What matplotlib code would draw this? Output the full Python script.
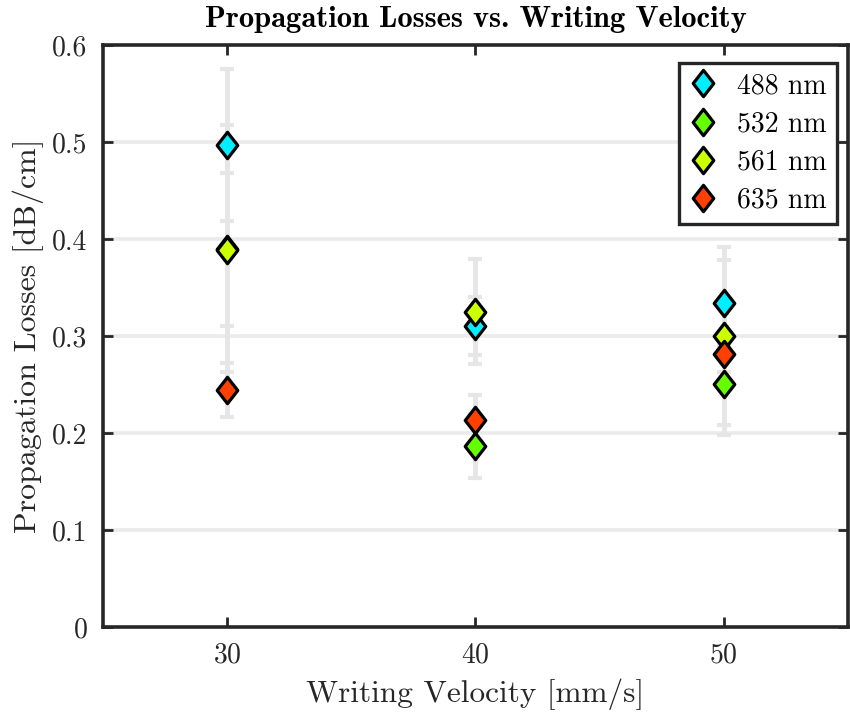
import numpy as np
import matplotlib
matplotlib.use("Agg")
import matplotlib.pyplot as plt
from matplotlib.path import Path

plt.rcParams['font.family'] = 'cmr10'
plt.rcParams['mathtext.fontset'] = 'cm'
plt.rcParams['axes.unicode_minus'] = False
plt.rcParams['axes.formatter.use_mathtext'] = True

# Measured propagation losses per laser line
velocity = [30, 40, 50]
labels = ['488 nm', '532 nm', '561 nm', '635 nm']
colors = ['#00EEFF', '#66FF00', '#CCFF00', '#FF4000']
loss_488 = [0.497, 0.310, 0.334]
loss_532 = [0.390, 0.187, 0.251]
loss_561 = [0.389, 0.325, 0.300]
loss_635 = [0.244, 0.213, 0.281]
err_488 = [0.078, 0.030, 0.044]
err_532 = [0.127, 0.033, 0.053]
err_561 = [0.079, 0.054, 0.092]
err_635 = [0.028, 0.026, 0.018]

losses = [loss_488, loss_532, loss_561, loss_635]
errors = [err_488, err_532, err_561, err_635]

# slightly tall diamond like MATLAB's 'd'
diamond = Path([(0, 1), (0.78, 0), (0, -1), (-0.78, 0), (0, 1)],
               [Path.MOVETO, Path.LINETO, Path.LINETO, Path.LINETO, Path.CLOSEPOLY])

fig = plt.figure(figsize=(8.5, 7.16), dpi=100)
ax = fig.add_axes([0.1212, 0.1243, 0.8764, 0.8129])

for y in [0.1, 0.2, 0.3, 0.4, 0.5]:
    ax.axhline(y, color='#ebebeb', lw=2.6, zorder=0)

for vals, errs in zip(losses, errors):
    ax.errorbar(velocity, vals, yerr=errs, fmt='none', ecolor='#e6e6e6',
                elinewidth=3.6, capsize=4.8, capthick=3.0, zorder=2)

for vals, col, lab in zip(losses, colors, labels):
    ax.plot(velocity, vals, linestyle='none', marker=diamond, markersize=19,
            markerfacecolor=col, markeredgecolor='black', markeredgewidth=2.3,
            label=lab, zorder=3)

ax.set_xlim(25, 55)
ax.set_ylim(0, 0.6)
ax.set_xticks([30, 40, 50])
ax.set_yticks([0, 0.1, 0.2, 0.3, 0.4, 0.5, 0.6])
ax.set_yticklabels(['0', '0.1', '0.2', '0.3', '0.4', '0.5', '0.6'])
ax.tick_params(direction='in', length=7, width=2, color='#262626',
               labelsize=20, top=True, right=True, pad=11, labelcolor='#262626')
for s in ax.spines.values():
    s.set_linewidth(2.6)
    s.set_color('#262626')

ax.set_xlabel('Writing Velocity [mm/s]', fontsize=22.5, color='#262626', labelpad=7)
ax.set_ylabel('Propagation Losses [dB/cm]', fontsize=23, color='#262626', labelpad=6)
ax.set_title('Propagation Losses vs. Writing Velocity', fontsize=22,
             fontfamily='cmb10', pad=13)

leg = ax.legend(loc='upper right', bbox_to_anchor=(0.985, 0.969), fontsize=20,
                frameon=True, fancybox=False, framealpha=1, edgecolor='#262626',
                handlelength=1.0, handletextpad=0.75, labelspacing=0.43,
                borderpad=0.35, borderaxespad=0)
leg.get_frame().set_linewidth(2.4)

fig.savefig('out.png', dpi=100)
